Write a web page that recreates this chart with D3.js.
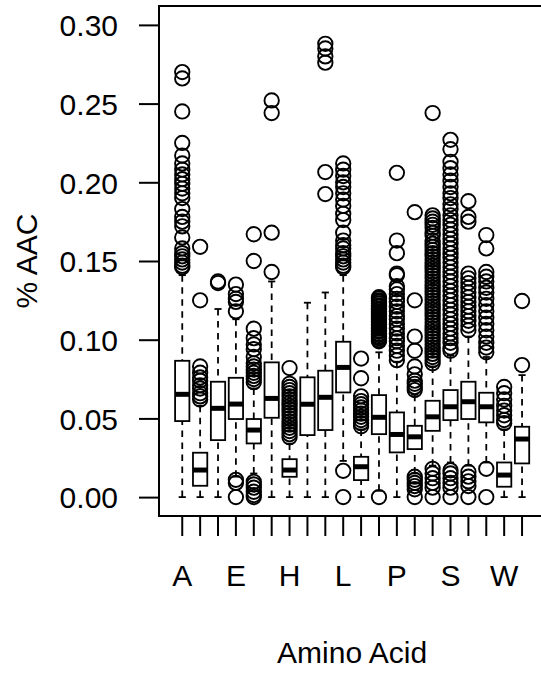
<!DOCTYPE html>
<html><head><meta charset="utf-8">
<script src="https://cdn.jsdelivr.net/npm/d3@7"></script>
<style>
body{margin:0;background:#fff}
svg{display:block}
text{font-family:"Liberation Sans",Arial,Helvetica,sans-serif;fill:#000}
</style>
</head><body>
<svg id="chart" width="541" height="673"></svg>
<script>
// ---------- data ----------
const categories = ["A","C","D","E","F","G","H","I","K","L","M","N","P","Q","R","S","T","V","W","Y"];
const shownLabels = ["A","E","H","L","P","S","W"];
const yTicks = [0.00, 0.05, 0.10, 0.15, 0.20, 0.25, 0.30];
const yTickLabels = ["0.00","0.05","0.10","0.15","0.20","0.25","0.30"];

const whiskerLow  = [0,      0,      0,      0.013,  0.015,  0,      0,      0,      0,      0.023,  0,      0.004,  0,      0.015,  0.020,  0.022,  0.020,  0.022,  0,      0];
const q1          = [0.0483, 0.0072, 0.0362, 0.0496, 0.0341, 0.0504, 0.0129, 0.0394, 0.0426, 0.0665, 0.0108, 0.0400, 0.0284, 0.0305, 0.0421, 0.0489, 0.0496, 0.0475, 0.0066, 0.0214];
const medians     = [0.0653, 0.0172, 0.0564, 0.0591, 0.0426, 0.0627, 0.0172, 0.0590, 0.0634, 0.0824, 0.0193, 0.0507, 0.0398, 0.0383, 0.0510, 0.0574, 0.0606, 0.0574, 0.0140, 0.0369];
const q3          = [0.0866, 0.0282, 0.0733, 0.0758, 0.0496, 0.0856, 0.0241, 0.0761, 0.0803, 0.0987, 0.0256, 0.0648, 0.0538, 0.0453, 0.0612, 0.0680, 0.0733, 0.0663, 0.0220, 0.0447];
const whiskerHigh = [0.141,  0.058,  0.1195, 0.113,  0.069,  0.137,  0.034,  0.1235, 0.130,  0.141,  0.043,  0.092,  0.086,  0.065,  0.083,  0.090,  0.102,  0.089,  0.043,  0.0775];

const outliers = [
  /* A */ [0.270,0.266,0.245,0.225,0.217,0.212,0.208,0.205,0.202,0.199,0.196,0.193,0.190,0.183,0.178,0.175,0.172,0.165,0.158,0.155,0.153,0.151,0.149,0.147,0.146],
  /* C */ [0.159,0.125,0.083,0.079,0.076,0.074,0.071,0.069,0.066,0.064,0.062],
  /* D */ [0.137,0.136],
  /* E */ [0.135,0.129,0.126,0.124,0.118,0.011,0.009,0.0],
  /* F */ [0.167,0.150,0.107,0.101,0.097,0.094,0.089,0.085,0.083,0.081,0.079,0.077,0.075,0.073,0.0097,0.008,0.006,0.0034,0.0013,0.0],
  /* G */ [0.252,0.244,0.168,0.143],
  /* H */ [0.082,0.072,0.070,0.068,0.066,0.064,0.062,0.060,0.058,0.056,0.054,0.052,0.050,0.048,0.046,0.044,0.042,0.040,0.038],
  /* I */ [],
  /* K */ [0.288,0.285,0.280,0.276,0.2065,0.1925],
  /* L */ [0.212,0.208,0.204,0.200,0.197,0.193,0.189,0.185,0.180,0.176,0.168,0.163,0.160,0.158,0.155,0.153,0.151,0.149,0.147,0.146,0.0167,0.0],
  /* M */ [0.088,0.0755,0.064,0.061,0.059,0.057,0.055,0.053,0.051,0.049,0.047,0.045],
  /* N */ [0.127,0.1262,0.125,0.1241,0.123,0.1218,0.121,0.1197,0.119,0.1178,0.117,0.1158,0.115,0.1139,0.113,0.1118,0.111,0.1097,0.109,0.1077,0.107,0.1058,0.105,0.1038,0.103,0.1018,0.101,0.0998,0.099,0.0],
  /* P */ [0.206,0.163,0.155,0.142,0.141,0.134,0.132,0.129,0.126,0.124,0.121,0.118,0.115,0.113,0.110,0.107,0.104,0.101,0.099,0.096,0.093,0.090,0.087],
  /* Q */ [0.181,0.125,0.102,0.093,0.083,0.078,0.074,0.072,0.070,0.068,0.013,0.011,0.009,0.007,0.005,0.0],
  /* R */ [0.244,0.179,0.177,0.175,0.173,0.171,0.168,0.166,0.163,0.161,0.159,0.157,0.155,0.153,0.151,0.149,0.147,0.145,0.143,0.141,0.139,0.137,0.135,0.133,0.131,0.129,0.127,0.125,0.123,0.121,0.119,0.117,0.115,0.113,0.111,0.109,0.107,0.105,0.103,0.101,0.099,0.097,0.095,0.093,0.091,0.089,0.087,0.085,0.018,0.015,0.012,0.009,0.006,0.0],
  /* S */ [0.227,0.221,0.213,0.209,0.205,0.201,0.197,0.193,0.190,0.186,0.183,0.179,0.176,0.173,0.170,0.167,0.164,0.161,0.158,0.155,0.152,0.149,0.146,0.143,0.140,0.137,0.134,0.131,0.128,0.125,0.122,0.119,0.116,0.113,0.110,0.107,0.104,0.101,0.098,0.095,0.093,0.017,0.015,0.012,0.009,0.006,0.0],
  /* T */ [0.188,0.178,0.175,0.142,0.139,0.136,0.133,0.130,0.127,0.124,0.121,0.118,0.115,0.112,0.109,0.106,0.016,0.013,0.010,0.007,0.0],
  /* V */ [0.1665,0.158,0.143,0.140,0.137,0.133,0.130,0.126,0.122,0.118,0.114,0.110,0.106,0.102,0.098,0.095,0.092,0.018,0.0],
  /* W */ [0.070,0.066,0.062,0.058,0.055,0.052,0.049,0.047],
  /* Y */ [0.1246,0.0839]
];

// ---------- layout ----------
const W = 541, H = 673;
const plotLeft = 159, plotTop = 6, plotBottom = 516, plotRight = 545.3;
const svg = d3.select("#chart");

// R style: xlim = c(0.5, n+0.5) extended by 4%
const unit = (plotRight - plotLeft) / 21.6;
const x = d3.scaleBand().domain(categories)
  .range([plotLeft + 0.8 * unit, plotRight - 0.8 * unit]).paddingInner(0).paddingOuter(0);
const bw = x.bandwidth();
const cx = c => x(c) + bw / 2;
const y = d3.scaleLinear().domain([-0.012, 0.312]).range([plotBottom, plotTop]);

const boxW = 0.8 * bw;
const stapleW = 0.4 * bw;

const groups = categories.map((c, i) => ({
  c, lo: whiskerLow[i], q1: q1[i], med: medians[i], q3: q3[i], hi: whiskerHigh[i], out: outliers[i]
}));

const g = svg.append("g");

groups.forEach(d => {
  const gx = cx(d.c);
  const gg = g.append("g");
  // whiskers (dashed)
  gg.append("line").attr("x1", gx).attr("x2", gx).attr("y1", y(d.lo)).attr("y2", y(d.q1))
    .attr("stroke", "#000").attr("stroke-width", 1.8).attr("stroke-dasharray", "6.5,5.5");
  gg.append("line").attr("x1", gx).attr("x2", gx).attr("y1", y(d.hi)).attr("y2", y(d.q3))
    .attr("stroke", "#000").attr("stroke-width", 1.8).attr("stroke-dasharray", "6.5,5.5");
  // staples
  [d.lo, d.hi].forEach(v => {
    gg.append("line").attr("x1", gx - stapleW / 2).attr("x2", gx + stapleW / 2)
      .attr("y1", y(v)).attr("y2", y(v)).attr("stroke", "#000").attr("stroke-width", 1.8);
  });
  // box
  gg.append("rect").attr("x", gx - boxW / 2).attr("width", boxW)
    .attr("y", y(d.q3)).attr("height", y(d.q1) - y(d.q3))
    .attr("fill", "#fff").attr("stroke", "#000").attr("stroke-width", 1.8);
  // median
  gg.append("line").attr("x1", gx - boxW / 2).attr("x2", gx + boxW / 2)
    .attr("y1", y(d.med)).attr("y2", y(d.med)).attr("stroke", "#000").attr("stroke-width", 5);
  // outliers
  gg.selectAll("circle").data(d.out).join("circle")
    .attr("cx", gx).attr("cy", v => y(v)).attr("r", 7.2)
    .attr("fill", "none").attr("stroke", "#000").attr("stroke-width", 1.9);
});

// frame
svg.append("rect").attr("x", plotLeft).attr("y", plotTop)
  .attr("width", plotRight - plotLeft).attr("height", plotBottom - plotTop)
  .attr("fill", "none").attr("stroke", "#000").attr("stroke-width", 2);

// x axis
const xAxis = d3.axisBottom(x).tickSize(20).tickPadding(27)
  .tickFormat(c => shownLabels.includes(c) ? c : "");
const gxA = svg.append("g").attr("transform", `translate(0,${plotBottom})`).call(xAxis);
gxA.select(".domain").remove();
gxA.selectAll(".tick line").attr("stroke", "#000").attr("stroke-width", 2);
gxA.selectAll(".tick text").attr("font-size", 30).attr("font-family", '"Liberation Sans",Arial,sans-serif')
  .attr("fill", "#000").attr("dy", null).attr("y", 70);

// y axis
const yAxis = d3.axisLeft(y).tickValues(yTicks).tickSize(20).tickPadding(21)
  .tickFormat((v, i) => yTickLabels[i]);
const gyA = svg.append("g").attr("transform", `translate(${plotLeft},0)`).call(yAxis);
gyA.select(".domain").remove();
gyA.append("line").attr("x1", 0).attr("x2", 0).attr("y1", y(0)).attr("y2", y(0.30))
  .attr("stroke", "#000").attr("stroke-width", 2);
gyA.selectAll(".tick line").attr("stroke", "#000").attr("stroke-width", 2);
gyA.selectAll(".tick text").attr("font-size", 30).attr("font-family", '"Liberation Sans",Arial,sans-serif')
  .attr("fill", "#000").attr("dy", "0.36em");

// axis titles
svg.append("text").attr("x", (plotLeft + plotRight) / 2).attr("y", 663)
  .attr("text-anchor", "middle").attr("font-size", 30).text("Amino Acid");
svg.append("text").attr("transform", `translate(37,${(plotTop + plotBottom) / 2}) rotate(-90)`)
  .attr("text-anchor", "middle").attr("font-size", 30).text("% AAC");
</script>
</body></html>
